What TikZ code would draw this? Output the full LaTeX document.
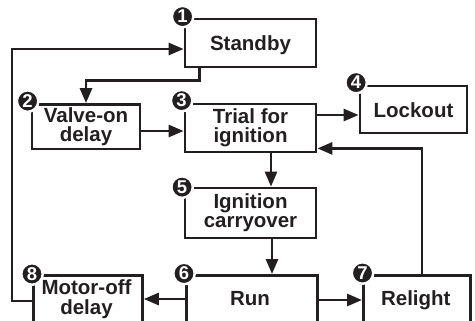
\documentclass[tikz,border=0pt]{standalone}
\usepackage{fontspec}
\setmainfont{Liberation Sans}
\usetikzlibrary{arrows.meta,calc}
\definecolor{ink}{HTML}{231F20}
\begin{document}
\begin{tikzpicture}[x=1bp,y=-1bp,
  line width=2.8bp, draw=ink,
  box/.style={draw=ink, line width=2.8bp, rectangle, inner sep=0pt, align=center,
    font=\bfseries\fontsize{20.5bp}{19bp}\selectfont, text=ink},
  one/.style={text height=15bp, text depth=0bp},
  lbl/.style={inner sep=0pt, align=center, font=\bfseries\fontsize{20.5bp}{19.5bp}\selectfont, text=ink},
  num/.style={circle, fill=ink, draw=white, line width=2.5bp, minimum size=21.5bp, inner sep=0pt,
    text=white, font=\bfseries\fontsize{18.5bp}{18.5bp}\selectfont},
  arr/.style={draw=ink, line width=2.8bp, -{Triangle[length=15bp,width=12bp]}}]
\useasboundingbox (0,0) rectangle (475,320);
\clip (0,0) rectangle (475,320);
% boxes
\node[box, one, minimum width=131bp, minimum height=48bp] (standby) at (250.5,43) {Standby};
\node[box, minimum width=108bp, minimum height=44.5bp] (valve) at (86,126.75) {Valve-on\\delay};
\node[box, minimum width=131bp, minimum height=48bp] (trial) at (250.5,128) {Trial for\\ignition};
\node[box, one, minimum width=107bp, minimum height=47bp] (lockout) at (413.5,109.5) {Lockout};
\node[box, minimum width=131bp, minimum height=50bp] (ignition) at (250.5,213) {Ignition\\carryover};
\node[box, anchor=north west, minimum width=131bp, minimum height=70bp] (run) at (185,274) {};
\node[box, anchor=north west, minimum width=109bp, minimum height=70bp] (motoroff) at (32,274) {};
\node[box, anchor=north west, minimum width=107bp, minimum height=70bp] (relight) at (362,274) {};
\node[lbl, anchor=base] (runlbl) at (250,305) {Run};
\node[lbl, anchor=base] (relightlbl) at (415.8,305) {Relight};
\node[lbl, anchor=north] (motorofflbl) at (86.5,278.3) {Motor-off\\delay};
% connectors
\draw[arr] ([xshift=-51bp]standby.south) -- ++(0,12) -| (valve.north);
\draw[arr] ([yshift=-4.25bp]valve.east) -- ([yshift=-4.25bp]valve.east -| trial.west);
\draw[arr] ([yshift=13bp]trial.east) -- ([yshift=13bp]trial.east -| lockout.west);
\draw[arr] ([xshift=20.5bp]trial.south) -- ([xshift=20.5bp]trial.south |- ignition.north);
\draw[arr] ([xshift=21.5bp]ignition.south) -- ([xshift=21.5bp]ignition.south |- run.north);
\draw[arr] ([yshift=-25bp]run.north west) -- ([yshift=-25bp]run.north west -| motoroff.east);
\draw[arr] ([yshift=-26bp]run.north east) -- ([yshift=-26bp]run.north east -| relight.west);
\draw[arr] ([xshift=60bp]relight.north west) |- ([yshift=5bp]trial.south east);
\draw[arr] ([yshift=-27bp]motoroff.north west) -- ++(-20,0) |- ([yshift=-6bp]standby.west);
% numbers
\node[num] (n1) at ([xshift=-1bp,yshift=1bp]standby.north west) {1};
\node[num] (n2) at ([xshift=-3bp,yshift=2bp]valve.north west) {2};
\node[num] (n3) at ([xshift=-2bp,yshift=2bp]trial.north west) {3};
\node[num] (n4) at ([xshift=-2.5bp,yshift=2bp]lockout.north west) {4};
\node[num] (n5) at ([xshift=-1.5bp,yshift=-0.5bp]ignition.north west) {5};
\node[num] (n6) at ([xshift=-1bp,yshift=0.5bp]run.north west) {6};
\node[num] (n7) at ([xshift=0.5bp,yshift=1bp]relight.north west) {7};
\node[num] (n8) at ([xshift=0bp,yshift=0bp]motoroff.north west) {8};
\end{tikzpicture}
\end{document}
